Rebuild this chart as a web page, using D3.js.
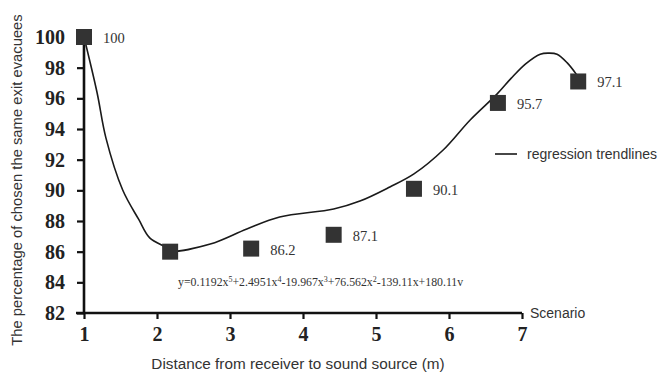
<!DOCTYPE html>
<html>
<head>
<meta charset="utf-8">
<script src="https://cdn.jsdelivr.net/npm/d3@7"></script>
<style>
  html, body { margin: 0; padding: 0; background: #fff; }
  svg { display: block; }
</style>
</head>
<body>
<svg id="chart" width="665" height="377"></svg>
<script>
// Scenario ticks on the distance axis and percentage ticks on the vertical axis
const distanceTicks = [1, 2, 3, 4, 5, 6, 7];
const percentTicks = [82, 84, 86, 88, 90, 92, 94, 96, 98, 100];

// Observed scenarios: position along the distance axis and chosen-exit percentage
const scenarioX = [1.0, 2.18, 3.29, 4.42, 5.52, 6.67, 7.77];
const scenarioPct = [100, 86.0, 86.2, 87.1, 90.1, 95.7, 97.1];
const scenarioLabels = ["100", "", "86.2", "87.1", "90.1", "95.7", "97.1"];

// Regression trendline samples
const trendX = [1.0, 1.18, 1.30, 1.53, 1.75, 1.9, 2.14, 2.18, 2.73, 3.23, 3.68, 4.42, 4.78, 5.19, 5.52, 5.92, 6.29, 6.66, 6.85, 7.05, 7.25, 7.36, 7.48, 7.62, 7.75];
const trendY = [100.0, 96.35, 93.42, 90.02, 88.1, 86.9, 86.24, 86.04, 86.5, 87.48, 88.26, 88.78, 89.3, 90.22, 91.07, 92.63, 94.59, 96.29, 97.3, 98.25, 98.88, 98.95, 98.88, 98.31, 97.53];

const svg = d3.select("#chart");

const x = d3.scaleLinear().domain([1, 7]).range([84, 522]);
const y = d3.scaleLinear().domain([82, 100]).range([313, 37]);

const ink = "#111";
const serif = "'Liberation Serif', 'Times New Roman', serif";
const sans = "'Liberation Sans', Arial, sans-serif";

// Vertical axis
const yAxis = svg.append("g")
  .attr("transform", `translate(${x(1)},0)`)
  .call(d3.axisLeft(y).tickValues(percentTicks).tickSize(7).tickPadding(12).tickSizeOuter(0));
yAxis.select(".domain").attr("stroke", ink).attr("stroke-width", 2.6)
  .attr("d", `M0,${y(82)}V${y(100) - 6}`);
yAxis.selectAll(".tick line").attr("stroke", ink).attr("stroke-width", 2.2);
yAxis.selectAll(".tick text")
  .attr("font-family", serif).attr("font-weight", "bold").attr("font-size", 20)
  .attr("fill", "#222");

// Horizontal axis
const xAxis = svg.append("g")
  .attr("transform", `translate(0,${y(82)})`)
  .call(d3.axisBottom(x).tickValues(distanceTicks).tickFormat(d3.format("d"))
    .tickSize(6).tickPadding(8).tickSizeOuter(0));
xAxis.select(".domain").attr("stroke", ink).attr("stroke-width", 2.6)
  .attr("d", `M${x(1) - 8},0H${x(7)}`);
xAxis.selectAll(".tick line").attr("stroke", ink).attr("stroke-width", 2.2);
xAxis.selectAll(".tick text")
  .attr("font-family", serif).attr("font-weight", "bold").attr("font-size", 20)
  .attr("fill", "#222");

svg.append("text")
  .attr("x", x(7) + 8).attr("y", y(82) + 5)
  .attr("font-family", sans).attr("font-size", 14).attr("fill", "#333")
  .text("Scenario");

// Axis titles
svg.append("text")
  .attr("transform", `translate(22,${(y(82) + y(100)) / 2 + 5}) rotate(-90)`)
  .attr("text-anchor", "middle")
  .attr("font-family", sans).attr("font-size", 14.8).attr("fill", "#333")
  .text("The percentage of chosen the same exit evacuees");

svg.append("text")
  .attr("x", 298).attr("y", 369)
  .attr("text-anchor", "middle")
  .attr("font-family", sans).attr("font-size", 15.3).attr("fill", "#333")
  .text("Distance from receiver to sound source (m)");

// Regression trendline
const trend = trendX.map((v, i) => [v, trendY[i]]);
svg.append("path")
  .datum(trend)
  .attr("fill", "none")
  .attr("stroke", "#1a1a1a")
  .attr("stroke-width", 1.6)
  .attr("d", d3.line().x(d => x(d[0])).y(d => y(d[1])).curve(d3.curveCatmullRom.alpha(0.5)));

// Scenario markers
const pts = scenarioX.map((v, i) => ({ x: v, y: scenarioPct[i], label: scenarioLabels[i] }));
const size = 16;
svg.append("g").selectAll("rect")
  .data(pts)
  .join("rect")
  .attr("x", d => x(d.x) - size / 2)
  .attr("y", d => y(d.y) - size / 2)
  .attr("width", size).attr("height", size)
  .attr("fill", "#333");

svg.append("g").selectAll("text")
  .data(pts.filter(d => d.label))
  .join("text")
  .attr("x", d => x(d.x) + 19)
  .attr("y", d => y(d.y) + 6)
  .attr("font-family", serif).attr("font-size", 14.5).attr("fill", "#333")
  .text(d => d.label);

// Legend
svg.append("line")
  .attr("x1", 495).attr("x2", 517).attr("y1", 154).attr("y2", 154)
  .attr("stroke", "#1a1a1a").attr("stroke-width", 1.6);
svg.append("text")
  .attr("x", 527).attr("y", 159)
  .attr("font-family", sans).attr("font-size", 14).attr("fill", "#333")
  .text("regression trendlines");

// Fitted polynomial
const eq = svg.append("text")
  .attr("x", 178).attr("y", 286)
  .attr("font-family", serif).attr("font-size", 11.8).attr("fill", "#333");
const eqParts = [
  ["y=0.1192x", ""], ["5", "sup"], ["+2.4951x", ""], ["4", "sup"],
  ["-19.967x", ""], ["3", "sup"], ["+76.562x", ""], ["2", "sup"],
  ["-139.11x+180.11v", ""]
];
eqParts.forEach(([t, kind], i) => {
  const s = eq.append("tspan").text(t);
  if (kind === "sup") s.attr("font-size", 8).attr("dy", -4);
  else if (i > 0) s.attr("dy", 4);
});
</script>
</body>
</html>
